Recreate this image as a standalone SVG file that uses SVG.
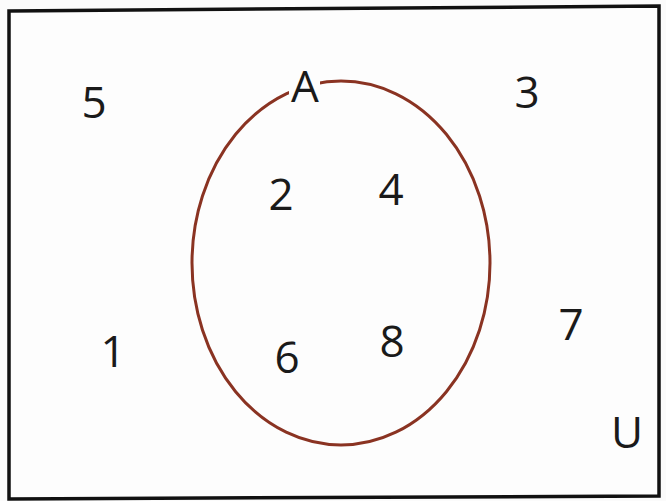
<svg xmlns="http://www.w3.org/2000/svg" width="666" height="501" viewBox="0 0 666 501">
<style>
.t{font-family:"Open Sans","Liberation Sans",sans-serif;font-size:44px;fill:#1a1a1a;text-anchor:middle}
</style>
<rect width="666" height="501" fill="#fbfbfb"/>
<g id="universe">
<path d="M9,11 L659,6 L659,496 L9,499 Z" fill="#fdfdfd" stroke="#111" stroke-width="3.5"/>
<text class="t" x="627" y="448">U</text>
</g>
<g id="setA">
<ellipse cx="341" cy="263" rx="149" ry="182" fill="none" stroke="#8a3322" stroke-width="3"/>
<rect x="289" y="62" width="31" height="40" fill="#fdfdfd"/>
<text class="t" x="305" y="102">A</text>
</g>
<g id="elements">
<text class="t" x="94" y="118">5</text>
<text class="t" x="527" y="108">3</text>
<text class="t" x="113" y="367">1</text>
<text class="t" x="571" y="340">7</text>
<text class="t" x="281" y="210">2</text>
<text class="t" x="391" y="205">4</text>
<text class="t" x="287" y="373">6</text>
<text class="t" x="392" y="357">8</text>
</g>
</svg>
